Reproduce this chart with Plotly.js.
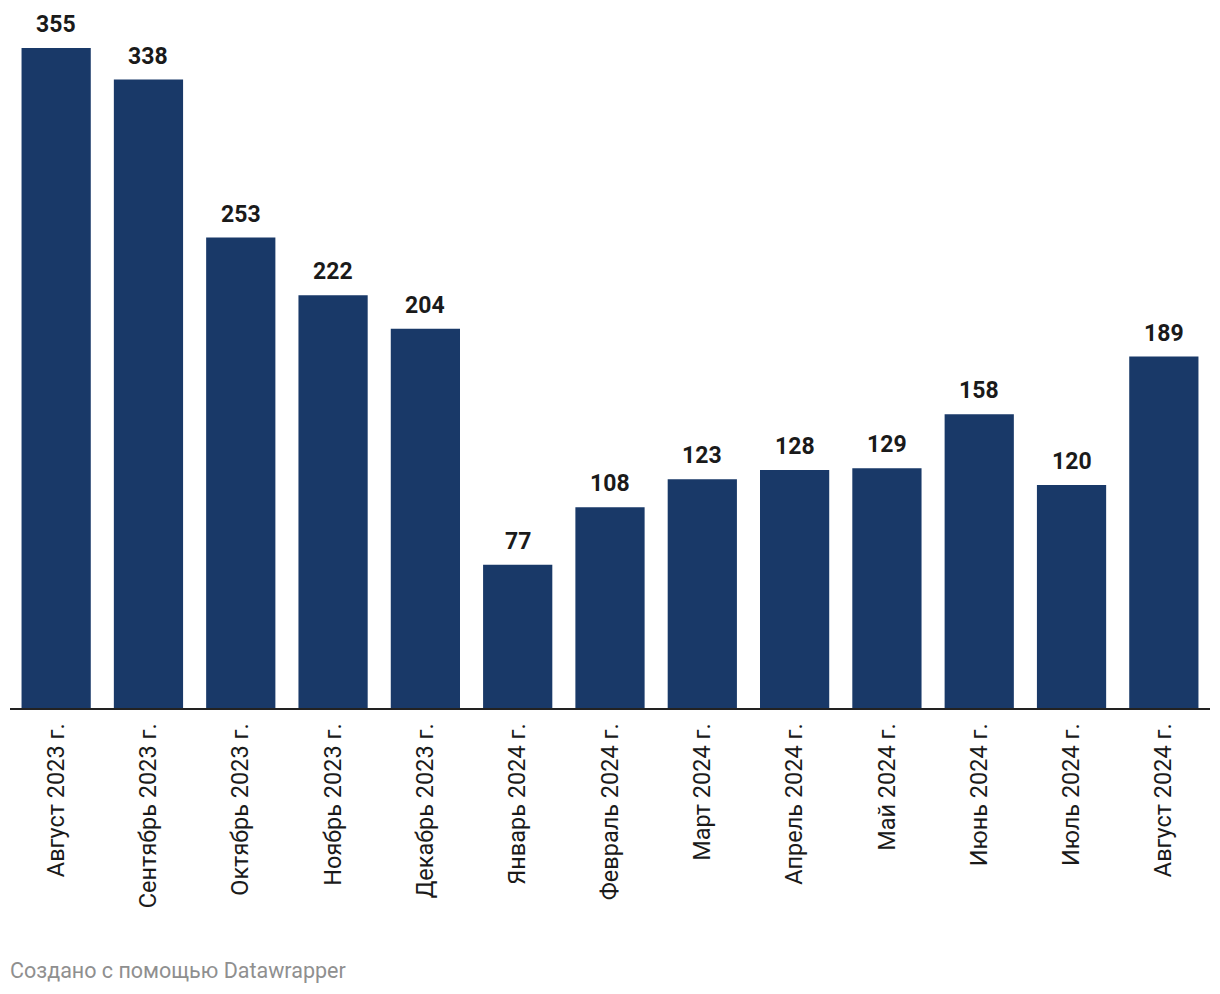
<!DOCTYPE html>
<html>
<head>
<meta charset="utf-8">
<script src="https://cdn.plot.ly/plotly-3.0.1.min.js"></script>
<style>
  body { margin: 0; background: #fff; }
  #chart { width: 1220px; height: 994px; }
</style>
</head>
<body>
<div id="chart"></div>
<script>
// monthly values, Aug 2023 - Aug 2024
const months = ["Август 2023 г.", "Сентябрь 2023 г.", "Октябрь 2023 г.", "Ноябрь 2023 г.",
                "Декабрь 2023 г.", "Январь 2024 г.", "Февраль 2024 г.", "Март 2024 г.",
                "Апрель 2024 г.", "Май 2024 г.", "Июнь 2024 г.", "Июль 2024 г.", "Август 2024 г."];
const values = [355, 338, 253, 222, 204, 77, 108, 123, 128, 129, 158, 120, 189];

const barColor = 'rgb(25, 57, 104)';
const textColor = '#1a1a1a';

const trace_bars = {x: months,
                    y: values,
                    type: 'bar',
                    marker: {color: barColor},
                    hoverinfo: 'none'};

// value labels above each bar
const valueLabels = months.map(function(m, i) {
    return {x: m, y: values[i],
            xref: 'x', yref: 'y',
            text: String(values[i]),
            showarrow: false,
            yanchor: 'bottom',
            yshift: 8,
            font: {family: 'Roboto', size: 23, color: textColor, weight: 700}};
});

const footer = {text: 'Создано с помощью Datawrapper',
                xref: 'paper', yref: 'paper',
                x: 0, y: 0,
                xshift: -2, yshift: -262,
                xanchor: 'left', yanchor: 'middle',
                showarrow: false,
                font: {family: 'Roboto', size: 21.5, color: '#8f8f8f'}};

const layout = {width: 1220,
                height: 994,
                margin: {l: 10, r: 10, t: 0, b: 286},
                paper_bgcolor: '#fff',
                plot_bgcolor: '#fff',
                bargap: 0.25,
                showlegend: false,
                font: {family: 'Roboto', color: textColor},
                xaxis: {type: 'category',
                        tickangle: -90,
                        tickfont: {family: 'Roboto', size: 23.5, color: textColor},
                        showline: true,
                        linecolor: '#222',
                        linewidth: 2,
                        ticks: '',
                        ticklabelstandoff: 4,
                        showgrid: false,
                        zeroline: false,
                        fixedrange: true},
                yaxis: {range: [0, 380.8],
                        visible: false,
                        showgrid: false,
                        zeroline: false,
                        fixedrange: true},
                annotations: valueLabels.concat([footer])};

Plotly.newPlot('chart', [trace_bars], layout, {displayModeBar: false, staticPlot: true});
</script>
</body>
</html>
